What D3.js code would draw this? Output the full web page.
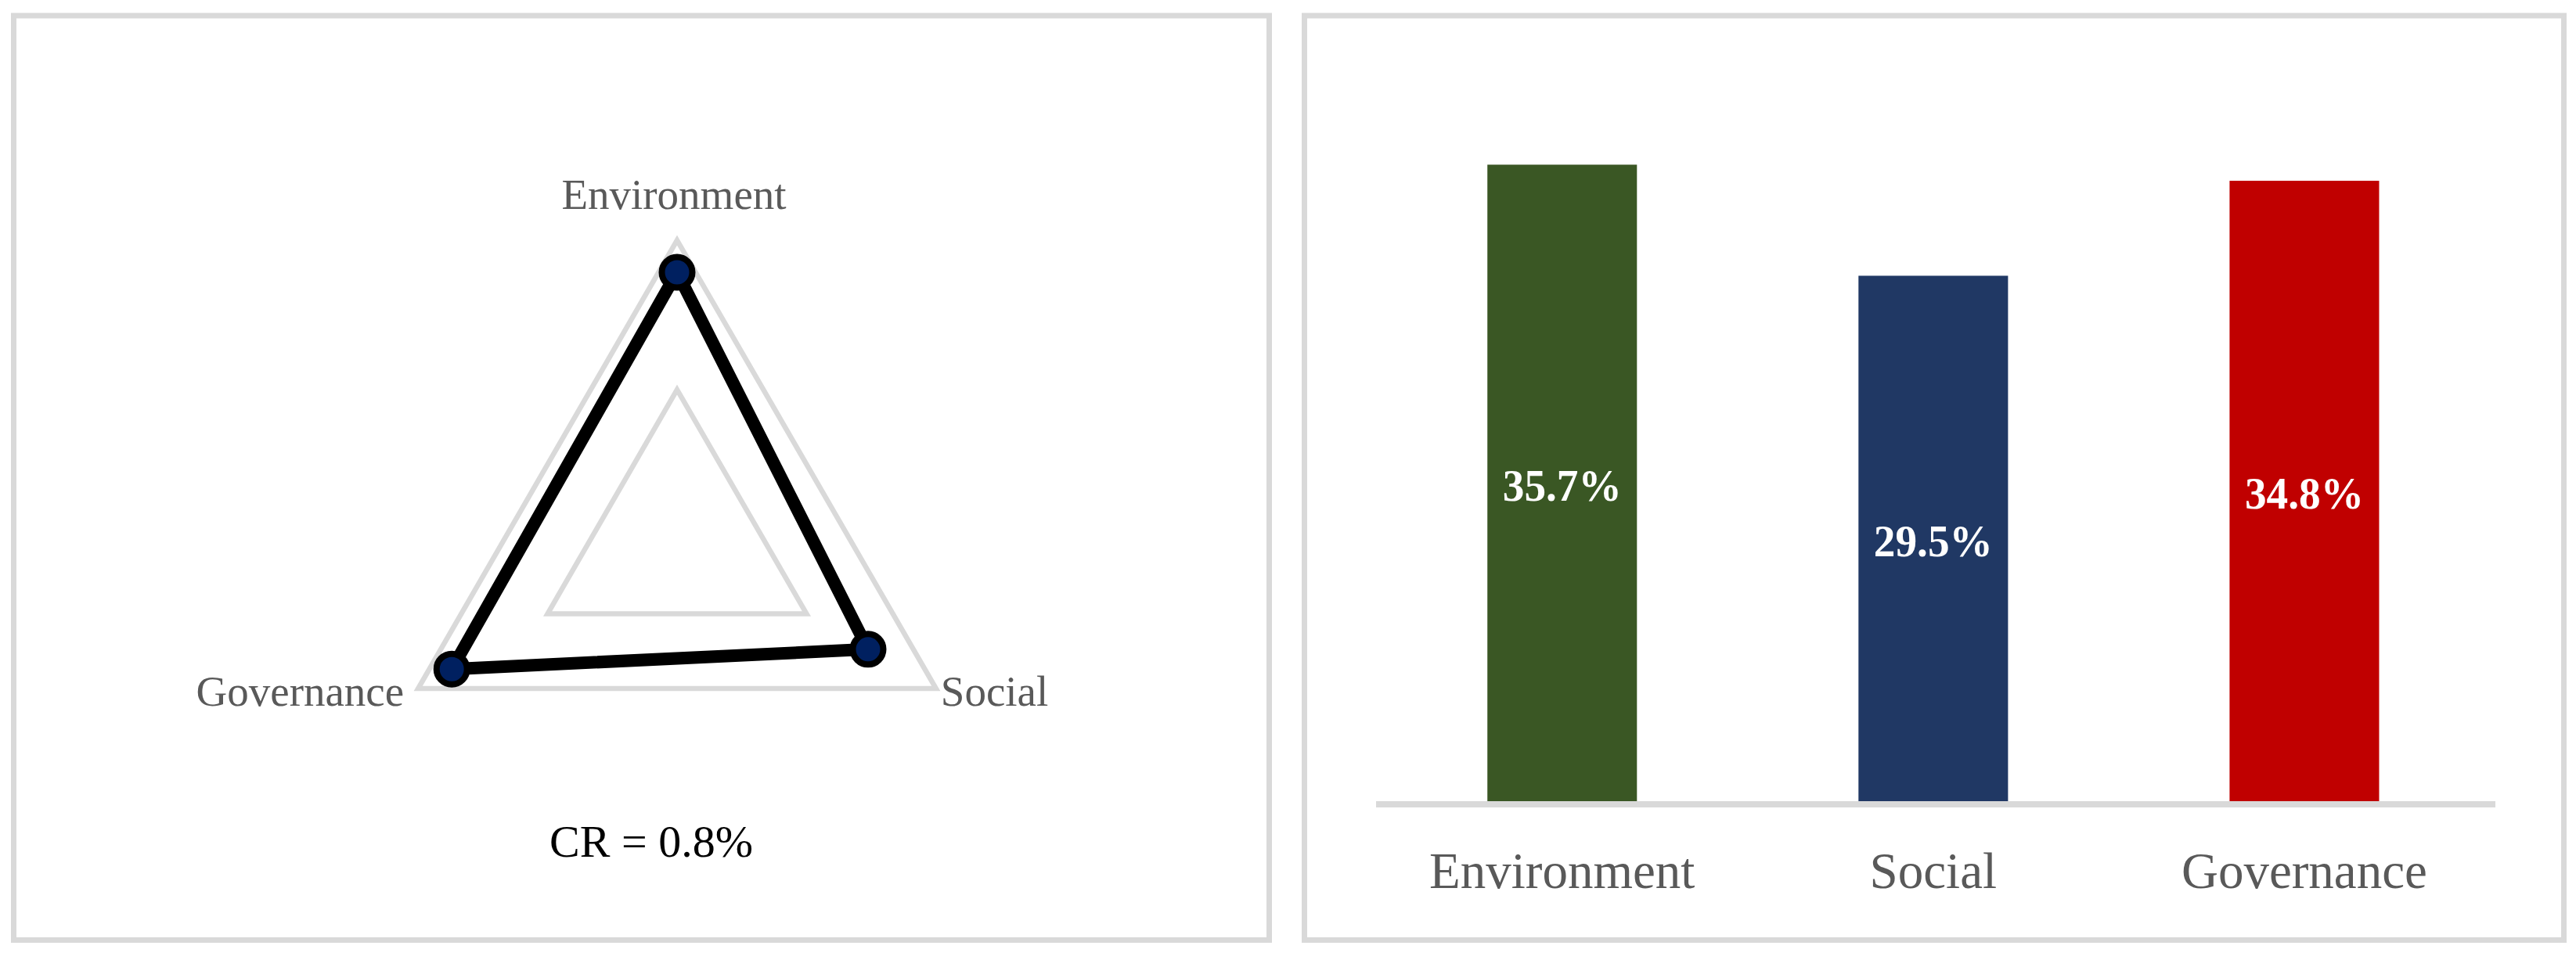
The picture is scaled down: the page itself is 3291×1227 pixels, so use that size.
<!DOCTYPE html>
<html>
<head>
<meta charset="utf-8">
<script src="https://cdn.jsdelivr.net/npm/d3@7"></script>
<style>
  html, body { margin: 0; padding: 0; background: #fff; }
  svg { display: block; }
  text { font-family: "Palatino Linotype", "Book Antiqua", Palatino, "Liberation Serif", serif; }
</style>
</head>
<body>
<div id="chart"></div>
<script>
var categories = ["Environment", "Social", "Governance"];
var weights = [0.357, 0.295, 0.348];
var weightLabels = ["35.7%", "29.5%", "34.8%"];
var barColors = ["#3a5724", "#203864", "#c00000"];
var radarLevels = [0.2, 0.4];
var crLabel = "CR = 0.8%";

var W = 3291, H = 1227;
var grey = "#d9d9d9";

var svg = d3.select("#chart").append("svg")
    .attr("width", W)
    .attr("height", H);

// panel frames
svg.append("rect")
    .attr("x", 17.5).attr("y", 20)
    .attr("width", 1604).attr("height", 1181.5)
    .attr("fill", "none").attr("stroke", grey).attr("stroke-width", 7);
svg.append("rect")
    .attr("x", 1666.5).attr("y", 20)
    .attr("width", 1609).attr("height", 1181.5)
    .attr("fill", "none").attr("stroke", grey).attr("stroke-width", 7);

// ---------- radar ----------
var cx = 865, cy = 689, R = 382;
var r = d3.scaleLinear().domain([0, 0.4]).range([0, R]);
var angle = d3.scalePoint().domain(categories).range([0, 2 * Math.PI * 2 / 3]);

var radar = svg.append("g").attr("transform", "translate(" + cx + "," + cy + ")");

var radial = d3.lineRadial()
    .angle(function(d) { return angle(d.name); })
    .radius(function(d) { return r(d.value); })
    .curve(d3.curveLinearClosed);

// grid triangles
radar.selectAll(".grid")
    .data(radarLevels)
    .enter()
    .append("path")
        .attr("class", "grid")
        .attr("d", function(lv) {
            return radial(categories.map(function(c) { return { name: c, value: lv }; }));
        })
        .attr("fill", "none")
        .attr("stroke", grey)
        .attr("stroke-width", 6.5)
        .attr("stroke-linejoin", "miter");

var points = categories.map(function(c, i) { return { name: c, value: weights[i] }; });

radar.append("path")
    .attr("d", radial(points))
    .attr("fill", "none")
    .attr("stroke", "#000")
    .attr("stroke-width", 16)
    .attr("stroke-linejoin", "round");

function xy(name, value) {
    var a = angle(name) - Math.PI / 2;
    return [r(value) * Math.cos(a), r(value) * Math.sin(a)];
}

radar.selectAll(".dot")
    .data(points)
    .enter()
    .append("circle")
        .attr("class", "dot")
        .attr("cx", function(d) { return xy(d.name, d.value)[0]; })
        .attr("cy", function(d) { return xy(d.name, d.value)[1]; })
        .attr("r", 19.5)
        .attr("fill", "#002060")
        .attr("stroke", "#000")
        .attr("stroke-width", 8);

// axis labels beside the outer vertices
var labelOffset = {
    "Environment": { dx: -4, dy: -40, anchor: "middle" },
    "Social": { dx: 6, dy: 22, anchor: "start" },
    "Governance": { dx: -18, dy: 22, anchor: "end" }
};
radar.selectAll(".axisLabel")
    .data(categories)
    .enter()
    .append("text")
        .attr("class", "axisLabel")
        .attr("x", function(d) { return xy(d, 0.4)[0] + labelOffset[d].dx; })
        .attr("y", function(d) { return xy(d, 0.4)[1] + labelOffset[d].dy; })
        .attr("text-anchor", function(d) { return labelOffset[d].anchor; })
        .attr("font-size", 55)
        .attr("fill", "#595959")
        .text(function(d) { return d; });

svg.append("text")
    .attr("x", 832).attr("y", 1095)
    .attr("text-anchor", "middle")
    .attr("font-size", 58)
    .attr("fill", "#000")
    .text(crLabel);

// ---------- bar chart ----------
var x = d3.scaleBand()
    .domain(categories)
    .range([1758, 3181.7])
    .paddingInner(0.597)
    .paddingOuter(0.3);
var y = d3.scaleLinear().domain([0, 0.4]).range([1028, 112]);

svg.selectAll(".bar")
    .data(categories)
    .enter()
    .append("rect")
        .attr("class", "bar")
        .attr("x", function(d) { return x(d); })
        .attr("y", function(d, i) { return y(weights[i]); })
        .attr("width", x.bandwidth())
        .attr("height", function(d, i) { return y(0) - y(weights[i]); })
        .attr("fill", function(d, i) { return barColors[i]; });

svg.append("line")
    .attr("x1", 1758).attr("x2", 3188)
    .attr("y1", y(0)).attr("y2", y(0))
    .attr("stroke", grey)
    .attr("stroke-width", 8);

svg.selectAll(".barLabel")
    .data(categories)
    .enter()
    .append("text")
        .attr("class", "barLabel")
        .attr("x", function(d) { return x(d) + x.bandwidth() / 2; })
        .attr("y", function(d, i) { return (y(weights[i]) + y(0)) / 2; })
        .attr("dy", "0.35em")
        .attr("text-anchor", "middle")
        .attr("font-size", 58)
        .attr("font-weight", "bold")
        .attr("textLength", 152)
        .attr("lengthAdjust", "spacingAndGlyphs")
        .attr("fill", "#fff")
        .text(function(d, i) { return weightLabels[i]; });

svg.selectAll(".catLabel")
    .data(categories)
    .enter()
    .append("text")
        .attr("class", "catLabel")
        .attr("x", function(d) { return x(d) + x.bandwidth() / 2; })
        .attr("y", 1135)
        .attr("text-anchor", "middle")
        .attr("font-size", 65)
        .attr("fill", "#595959")
        .text(function(d) { return d; });
</script>
</body>
</html>
